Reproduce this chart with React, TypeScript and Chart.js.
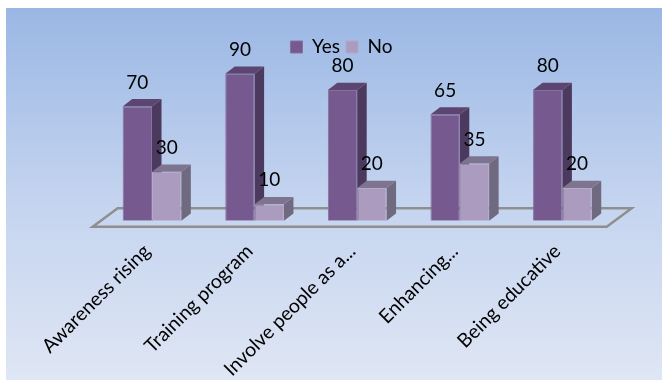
import React, { useEffect, useRef } from "react";
import { Chart, registerables } from "chart.js";

Chart.register(...registerables);

const categories = ["Awareness rising", "Training program", "Involve people as a...", "Enhancing...", "Being educative"];
const yesValues = [70, 90, 80, 65, 80];
const noValues = [30, 10, 20, 35, 20];

const FONT = "Lato, 'Open Sans', sans-serif";
const DEPTH_X = 9.5;
const DEPTH_Y = 7.3;
const faceColors = [
  { side: "#4b3a5e", top: "#5c4570" },
  { side: "#6f6a80", top: "#7d7590" },
];

// Slide background with a vertical blue gradient.
const backdrop = {
  id: "backdrop",
  beforeDraw(chart: any) {
    const { ctx, width, height } = chart;
    const g = ctx.createLinearGradient(0, 8, 0, 380);
    g.addColorStop(0, "#9ab7e4");
    g.addColorStop(0.5, "#c3d3ef");
    g.addColorStop(1, "#dfe6f4");
    ctx.save();
    ctx.fillStyle = "#ffffff";
    ctx.fillRect(0, 0, width, height);
    ctx.fillStyle = g;
    ctx.fillRect(6, 8, width - 6, height - 8);
    ctx.restore();
  },
};

// Floor plane under the columns, tied to the plot area and the zero line.
const floor = {
  id: "floor",
  beforeDatasetsDraw(chart: any) {
    const { ctx, chartArea } = chart;
    const base = chart.scales.y.getPixelForValue(0);
    ctx.save();
    ctx.strokeStyle = "#8f8f8f";
    ctx.lineWidth = 2.5;
    ctx.beginPath();
    ctx.moveTo(chartArea.left - 8, base + 6);
    ctx.lineTo(chartArea.right - 7, base + 6);
    ctx.lineTo(chartArea.right + 18, base - 12.4);
    ctx.lineTo(chartArea.left + 17, base - 12.4);
    ctx.closePath();
    ctx.stroke();
    ctx.restore();
  },
};

// Extruded side and top faces; every front face is painted over them afterwards.
const extrude = {
  id: "extrude",
  beforeDatasetsDraw(chart: any) {
    const { ctx } = chart;
    ctx.save();
    faceColors.forEach((colors, index) => {
      chart.getDatasetMeta(index).data.forEach((bar: any) => {
        const { x, y, base, width } = bar.getProps(["x", "y", "base", "width"], true);
        const l = x - width / 2;
        const r = x + width / 2;
        ctx.fillStyle = colors.side;
        ctx.beginPath();
        ctx.moveTo(r, y);
        ctx.lineTo(r + DEPTH_X, y - DEPTH_Y);
        ctx.lineTo(r + DEPTH_X, base - DEPTH_Y);
        ctx.lineTo(r, base);
        ctx.closePath();
        ctx.fill();
        ctx.fillStyle = colors.top;
        ctx.beginPath();
        ctx.moveTo(l, y);
        ctx.lineTo(l + DEPTH_X, y - DEPTH_Y);
        ctx.lineTo(r + DEPTH_X, y - DEPTH_Y);
        ctx.lineTo(r, y);
        ctx.closePath();
        ctx.fill();
      });
    });
    ctx.restore();
  },
};

// Value captions above each column and legend placement inside the plot.
const valueLabels = {
  id: "valueLabels",
  beforeDraw(chart: any) {
    const lg = chart.legend;
    const w = lg.right - lg.left;
    lg.left = 341.5 - w / 2;
    lg.right = 341.5 + w / 2;
    const h = lg.bottom - lg.top;
    lg.top = 49 - h / 2;
    lg.bottom = 49 + h / 2;
  },
  afterDatasetsDraw(chart: any) {
    const { ctx } = chart;
    ctx.save();
    ctx.fillStyle = "#000000";
    ctx.font = `19px ${FONT}`;
    ctx.textAlign = "center";
    ctx.textBaseline = "middle";
    chart.data.datasets.forEach((ds: any, i: number) => {
      chart.getDatasetMeta(i).data.forEach((bar: any, j: number) => {
        ctx.fillText(String(ds.data[j]), bar.x, bar.y - 24);
      });
    });
    ctx.restore();
  },
};

export default function App() {
  const ref = useRef<HTMLCanvasElement>(null);
  useEffect(() => {
    const chart = new Chart(ref.current as HTMLCanvasElement, {
      type: "bar",
      data: {
        labels: categories,
        datasets: [
          { label: "Yes", data: yesValues, backgroundColor: "#75598f", borderColor: "#8672a0", borderWidth: 1 },
          { label: "No", data: noValues, backgroundColor: "#ab9bbf", borderColor: "#b5a8c8", borderWidth: 1 },
        ],
      },
      options: {
        responsive: false,
        animation: false,
        layout: { padding: { left: 100.7, right: 48.3, top: 22.4, bottom: 0 } },
        datasets: { bar: { categoryPercentage: 0.572, barPercentage: 1 } },
        plugins: {
          tooltip: { enabled: false },
          legend: {
            position: "top",
            labels: {
              boxWidth: 12,
              boxHeight: 12,
              padding: 6,
              color: "#000000",
              font: { family: FONT, size: 19 },
            },
          },
        },
        scales: {
          x: {
            grid: { display: false },
            border: { display: false },
            afterFit(scale: any) {
              scale.height = 159.3;
            },
            ticks: {
              minRotation: 45,
              maxRotation: 45,
              autoSkip: false,
              padding: 11,
              labelOffset: -5,
              color: "#000000",
              font: { family: FONT, size: 19.5 },
            },
          },
          y: { display: false, min: 0, max: 100 },
        },
      },
      plugins: [backdrop, floor, extrude, valueLabels],
    } as any);
    return () => chart.destroy();
  }, []);
  return (
    <canvas
      ref={ref}
      width={662}
      height={380}
      style={{ position: "absolute", left: 0, top: 0, display: "block" }}
    />
  );
}
